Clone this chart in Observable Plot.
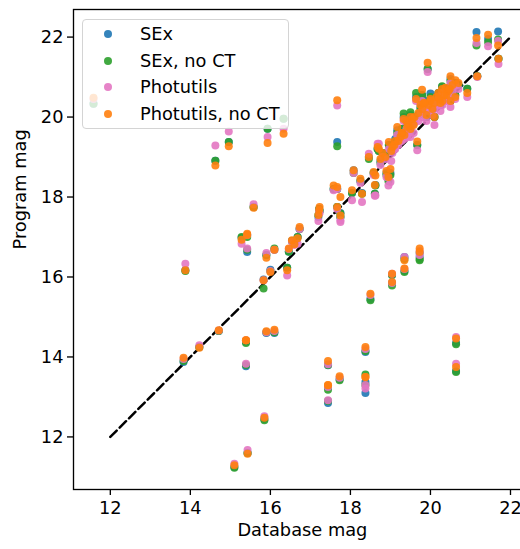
<!DOCTYPE html>
<html><head><meta charset="utf-8">
<script src="https://cdn.jsdelivr.net/npm/d3@7"></script>
<script src="https://cdn.jsdelivr.net/npm/@observablehq/plot@0.6"></script>
<style>
html,body{margin:0;padding:0;background:#fff;overflow:hidden}
#wrap{position:relative;width:520px;height:549px;font-family:"DejaVu Sans",sans-serif}
#legend{position:absolute;left:82px;top:19px;width:207px;height:110px;box-sizing:border-box;border:1px solid #d4d4d4;border-radius:4px;background:rgba(255,255,255,0.8)}
.mk{position:absolute;width:8px;height:8px;border-radius:50%}
.lb{position:absolute;left:140px;font-size:17.8px;line-height:20px;color:#000;white-space:nowrap}
</style></head>
<body><div id="wrap"></div>
<script>
// columns: database mag, SEx, SEx no CT, Photutils, Photutils no CT
const dbMag      = [11.58,13.83,13.875,14.225,14.625,14.71,14.96,15.1,15.28,15.39,15.39,15.42,15.42,15.43,15.58,15.83,15.85,15.9,15.9,15.93,16.0,16.1,16.1,16.33,16.42,16.46,16.54,16.6,16.68,16.73,17.2,17.23,17.22,17.44,17.44,17.44,17.58,17.67,17.67,17.67,17.73,17.75,17.75,18.04,18.08,18.25,18.29,18.375,18.375,18.375,18.46,18.5,18.58,18.61,18.625,18.68,18.71,18.75,18.8,18.875,18.9,18.95,18.96,19.0,19.05,19.1,19.17,19.2,19.25,19.3,19.33,19.35,19.4,19.45,19.5,19.5,19.55,19.6,19.64,19.67,19.7,19.75,19.79,19.8,19.83,19.9,19.93,19.95,20.0,20.0,20.05,20.1,20.1,20.15,20.2,20.25,20.29,20.3,20.375,20.4,20.45,20.5,20.5,20.55,20.62,20.625,20.7,20.92,21.15,21.17,21.44,21.69,21.7,19.04,19.04,19.35,19.35,19.73,19.73,20.64,20.64,19.12,19.28,19.42,19.58,19.85,20.22,20.35,20.48,19.02];
const sexMag     = [20.33,13.875,16.17,14.25,18.91,14.65,19.375,11.25,16.98,14.38,13.77,17.05,16.625,11.6,17.75,15.94,12.45,14.6,16.55,19.71,16.18,14.6,16.68,19.96,16.23,16.63,16.9,16.85,17.0,17.2,17.5,17.65,17.7,13.79,13.25,12.85,18.2,19.375,18.2,17.75,13.45,17.5,17.6,18.1,18.67,18.4,18.1,14.125,13.375,13.1,19.0,15.45,18.6,18.08,18.3,19.2,19.15,18.9,19.1,19.09,18.6,18.45,19.3,18.6,19.2,19.35,19.67,19.45,19.55,19.6,20.0,19.6,19.9,19.75,20.05,19.65,19.9,20.0,20.5,19.3,20.05,20.25,20.55,20.15,20.42,20.0,21.2,20.3,20.59,20.35,20.2,20.35,20.0,20.5,20.6,20.3,20.75,20.45,20.7,20.5,20.6,20.95,20.4,20.75,20.55,20.85,20.8,20.71,22.125,21.02,21.95,22.14,21.46,16.05,15.85,16.5,16.15,16.6,16.5,14.35,13.65,19.45,19.7,19.8,19.85,20.4,20.5,20.6,20.75,19.25];
const sexNoCtMag = [20.33,13.9,16.15,14.25,18.91,14.65,19.375,11.23,17.0,14.35,13.8,17.0,16.68,11.6,17.75,15.71,12.42,14.62,16.55,19.71,16.15,14.62,16.71,19.96,16.23,16.63,16.9,16.85,17.0,17.2,17.55,17.65,17.7,13.8,13.18,12.9,18.2,19.27,18.2,17.75,13.42,17.5,17.59,18.1,18.6,18.4,18.08,14.15,13.56,13.3,18.95,15.42,18.6,18.08,18.29,19.2,19.15,18.85,19.1,19.05,18.55,18.4,19.3,18.55,19.2,19.3,19.6,19.4,19.5,19.6,20.09,19.55,19.85,19.75,20.12,19.65,19.9,20.0,20.6,19.3,20.05,20.2,20.55,20.15,20.35,20.0,21.2,20.25,20.5,20.35,20.2,20.35,20.0,20.5,20.6,20.3,20.77,20.45,20.7,20.5,20.6,20.9,20.4,20.75,20.55,20.85,20.8,20.71,21.79,21.02,21.875,21.94,21.46,16.05,15.79,16.45,16.125,16.42,16.45,14.32,13.625,19.4,19.7,19.75,19.85,20.35,20.45,20.6,20.7,19.2];
const photMag    = [20.45,13.95,16.33,14.29,19.29,14.66,19.64,11.33,16.83,14.42,13.83,17.05,16.71,11.67,17.82,15.92,12.52,14.62,16.6,19.5,16.15,14.65,16.68,19.71,16.04,16.7,16.88,16.8,16.83,17.2,17.4,17.6,17.65,13.82,13.25,12.92,18.17,20.29,18.2,17.7,13.48,17.375,17.42,17.92,18.6,18.35,17.875,14.2,13.3,13.21,19.08,15.55,18.55,18.03,18.04,19.33,19.33,18.8,19.0,18.95,18.5,18.29,19.2,18.375,19.1,19.2,19.55,19.3,19.4,19.45,19.9,19.45,19.7,19.6,19.9,19.5,19.8,19.85,20.4,19.17,19.9,20.1,20.4,20.0,20.25,19.9,21.125,20.15,20.35,20.2,20.05,20.2,19.8,20.35,20.45,20.15,20.6,20.3,20.6,20.4,20.5,20.85,20.25,20.65,20.45,20.8,20.7,20.5,21.85,21.0,21.77,21.9,21.33,16.08,15.85,16.5,16.2,16.65,16.55,14.5,13.83,19.2,19.4,19.5,19.6,20.15,20.3,20.4,20.5,18.9];
const photNoCtMag= [20.48,13.98,16.17,14.23,18.79,14.67,19.27,11.29,16.93,14.42,14.42,17.08,17.05,11.58,17.73,15.92,12.48,14.64,16.48,19.35,16.125,14.68,16.68,19.585,16.17,16.71,16.92,16.82,16.97,17.25,17.55,17.75,17.68,13.9,13.29,13.3,18.29,20.42,18.25,17.75,13.52,17.54,18.0,18.17,18.67,18.46,18.08,14.25,13.5,13.5,19.0,15.58,18.625,18.3,18.54,19.25,19.21,18.95,19.1,19.0,18.65,18.5,19.375,18.7,19.25,19.3,19.75,19.4,19.5,19.6,19.95,19.55,19.9,19.8,20.0,19.7,19.95,20.0,20.45,19.39,20.1,20.3,20.68,20.2,20.35,20.05,21.36,20.3,20.45,20.4,20.2,20.35,20.0,20.5,20.6,20.35,20.7,20.4,20.73,20.55,20.65,21.02,20.4,20.8,20.5,20.92,20.85,20.6,21.98,21.02,22.06,21.79,21.46,16.08,15.875,16.42,16.21,16.71,16.625,14.46,13.75,19.4,19.6,19.75,19.8,20.35,20.45,20.55,20.7,19.15];

const seriesNames  = ["SEx", "SEx, no CT", "Photutils", "Photutils, no CT"];
const seriesColors = ["#1f77b4", "#2ca02c", "#e377c2", "#ff7f0e"];
const seriesValues = [sexMag, sexNoCtMag, photMag, photNoCtMag];
const lineEnds = [12, 22];
const xTicks = [12, 14, 16, 18, 20, 22];
const yTicks = [12, 14, 16, 18, 20, 22];

const rows = [];
seriesValues.forEach((vals, s) => vals.forEach((v, i) => rows.push({x: dbMag[i], y: v, series: seriesNames[s]})));
const lineData = lineEnds.map(v => ({x: v, y: v}));

const FS = 17.8;
const chart = Plot.plot({
  width: 520, height: 549,
  marginLeft: 73, marginRight: -10.8, marginTop: 9, marginBottom: 60,
  style: {fontFamily: "DejaVu Sans, sans-serif", fontSize: FS + "px", color: "black", background: "white", overflow: "hidden"},
  x: {domain: [11.08, 22.52]},
  y: {domain: [10.685, 22.69]},
  color: {domain: seriesNames, range: seriesColors},
  marks: [
    Plot.axisX({ticks: xTicks, tickSize: 6, tickPadding: 6, strokeWidth: 1.33, label: null, fontSize: FS, tickFormat: d => String(d)}),
    Plot.axisY({ticks: yTicks, tickSize: 6, tickPadding: 4, strokeWidth: 1.33, label: null, fontSize: FS, tickFormat: d => String(d)}),
    Plot.line(lineData, {x: "x", y: "y", stroke: "black", strokeWidth: 2.5, strokeDasharray: "9,4.2"}),
    Plot.dot(rows, {x: "x", y: "y", fill: "series", r: 4, fillOpacity: 0.9}),
    Plot.frame({stroke: "black", strokeWidth: 1.33}),
    Plot.text(["Database mag"], {frameAnchor: "bottom", dy: 46, fontSize: FS, fill: "black"}),
    Plot.text(["Program mag"], {frameAnchor: "left", dx: -53, rotate: -90, fontSize: FS, fill: "black"})
  ]
});
const wrap = document.getElementById("wrap");
wrap.appendChild(chart);

const legend = document.createElement("div");
legend.id = "legend";
wrap.appendChild(legend);
const legendY = [34, 60.5, 87, 113.5];
seriesNames.forEach((name, i) => {
  const m = document.createElement("div");
  m.className = "mk";
  m.style.left = (107.7 - 4) + "px";
  m.style.top = (legendY[i] - 4) + "px";
  m.style.background = seriesColors[i];
  m.style.opacity = 0.9;
  wrap.appendChild(m);
  const t = document.createElement("div");
  t.className = "lb";
  t.style.top = (legendY[i] - 10) + "px";
  t.textContent = name;
  wrap.appendChild(t);
});
</script></body></html>
